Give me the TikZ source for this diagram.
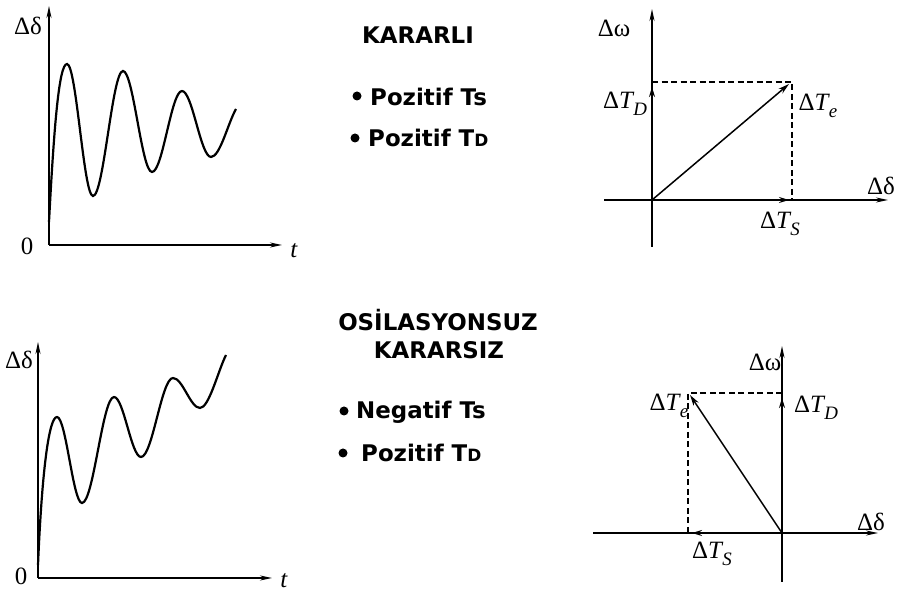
\documentclass[tikz,border=0pt]{standalone}
\usepackage{fontspec}
\setmainfont{Liberation Serif}
\newfontfamily\vsans{DejaVu Sans}
\usetikzlibrary{arrows.meta}
\tikzset{
  axis/.style={line width=1.6bp,-{Stealth[length=12bp,width=5bp]}},
  curve/.style={line width=2.2bp},
  vec/.style={line width=1.5bp,-{Stealth[length=11bp,width=6bp]}},
  dashline/.style={line width=1.3bp,dash pattern=on 6bp off 3.5bp},
  lab/.style={font=\fontsize{25}{28}\selectfont,inner sep=0pt},
  head/.style={font=\vsans\bfseries\fontsize{23}{26}\selectfont,inner sep=0pt},
  item/.style={font=\vsans\bfseries\fontsize{23}{26}\selectfont,inner sep=0pt,anchor=west},
  dot/.style={circle,fill=black,inner sep=0pt,minimum size=9bp},
  tipline/.style={line width=1.6bp,-{Stealth[length=10bp,width=6bp]}}
}
\newcommand{\DT}[1]{Δ\textit{T}\kern-1bp\raisebox{-7bp}{\fontsize{19}{19}\selectfont\textit{#1}}}
\newcommand{\TD}{T{\fontsize{17}{20}\selectfont D}}
\begin{document}
\begin{tikzpicture}[x=1bp,y=1bp]
\useasboundingbox (0,0) rectangle (899,593);
% ---------- top left plot ----------
\coordinate (o1) at (49,348);
\coordinate (y1) at (49,587);
\coordinate (x1) at (282,348);
\draw[axis] (o1) -- (y1);
\draw[axis] (o1) -- (x1);
\node[lab] (d1) at (28,567) {Δδ};
\node[lab] (z1) at (27,347) {0};
\node[lab] (t1) at (294,342) {\textit{t}};
\draw[curve] (49,371) .. controls +(5,95) and +(-8,0) .. (67,529)
  .. controls +(9.4,0) and +(-9.4,0) .. (93,397)
  .. controls +(10.8,0) and +(-10.8,0) .. (123,522)
  .. controls +(10.4,0) and +(-10.4,0) .. (152,421)
  .. controls +(10.8,0) and +(-10.8,0) .. (182,502)
  .. controls +(10.4,0) and +(-10.4,0) .. (211,436)
  .. controls +(9,0) and +(-8,-14) .. (236,484);
% ---------- top middle text ----------
\node[head] (h1) at (418,558) {KARARLI};
\node[dot] (b1) at (357,497) {};
\node[item] (i1) at (370,496) {Pozitif Ts};
\node[dot] (b2) at (355,455) {};
\node[item] (i2) at (368,455) {Pozitif \TD};
% ---------- top right phasor ----------
\coordinate (O1) at (652,393);
\coordinate (O1b) at (652,346);
\coordinate (O1t) at (652,584);
\coordinate (O1l) at (604,393);
\coordinate (O1r) at (888,393);
\coordinate (E1) at (792,511);
\coordinate (D1) at (652,511);
\coordinate (S1) at (792,393);
\draw[axis] (O1b) -- (O1t);
\draw[axis] (O1l) -- (O1r);
\draw[vec] (O1) -- (789,509);
\draw[dashline] (D1) -- (E1) -- (S1);
\draw[tipline] (652,490) -- (652,506);
\draw[tipline] (770,393) -- (789,393);
\node[lab] (w1) at (614,565) {Δω};
\node[lab] (dd1) at (881,407) {Δδ};
\node[lab] (TD1) at (625,489) {\DT{D}};
\node[lab] (Te1) at (818,487) {\DT{e}};
\node[lab] (TS1) at (780,369) {\DT{S}};
% ---------- bottom left plot ----------
\coordinate (o2) at (38,15);
\coordinate (y2) at (38,251);
\coordinate (x2) at (272,15);
\draw[axis] (o2) -- (y2);
\draw[axis] (o2) -- (x2);
\node[lab] (d2) at (19,233) {Δδ};
\node[lab] (z2) at (21,17) {0};
\node[lab] (t2) at (284,12) {\textit{t}};
\draw[curve] (38,28) .. controls +(4,95) and +(-8,0) .. (57,176)
  .. controls +(9,0) and +(-9,0) .. (82,90)
  .. controls +(11.5,0) and +(-11.5,0) .. (114,196)
  .. controls +(9.7,0) and +(-9.7,0) .. (141,136)
  .. controls +(11.5,0) and +(-11.5,0) .. (173,215)
  .. controls +(9.7,0) and +(-9.7,0) .. (200,185)
  .. controls +(9,0) and +(-8,-16) .. (226,238);
% ---------- bottom middle text ----------
\node[head] (h2) at (438,273) {OSİLASYONSUZ};
\node[head] (h3) at (439,243) {KARARSIZ};
\node[dot] (b3) at (344,182) {};
\node[item] (i3) at (356,181) {Negatif Ts};
\node[dot] (b4) at (343,140) {};
\node[item] (i4) at (361,140) {Pozitif \TD};
% ---------- bottom right phasor ----------
\coordinate (O2) at (782,60);
\coordinate (O2b) at (782,11);
\coordinate (O2t) at (782,247);
\coordinate (O2l) at (593,60);
\coordinate (O2r) at (878,60);
\coordinate (E2) at (688,200);
\coordinate (D2) at (782,200);
\coordinate (S2) at (688,60);
\draw[axis] (O2b) -- (O2t);
\draw[axis] (O2l) -- (O2r);
\draw[vec] (O2) -- (690,198);
\draw[dashline] (D2) -- (E2) -- (S2);
\draw[tipline] (782,178) -- (782,195);
\draw[tipline] (712,60) -- (692,60);
\node[lab] (w2) at (765,231) {Δω};
\node[lab] (dd2) at (871,71) {Δδ};
\node[lab] (TD2) at (816,185) {\DT{D}};
\node[lab] (Te2) at (669,187) {\DT{e}};
\node[lab] (TS2) at (712,39) {\DT{S}};
\end{tikzpicture}
\end{document}
